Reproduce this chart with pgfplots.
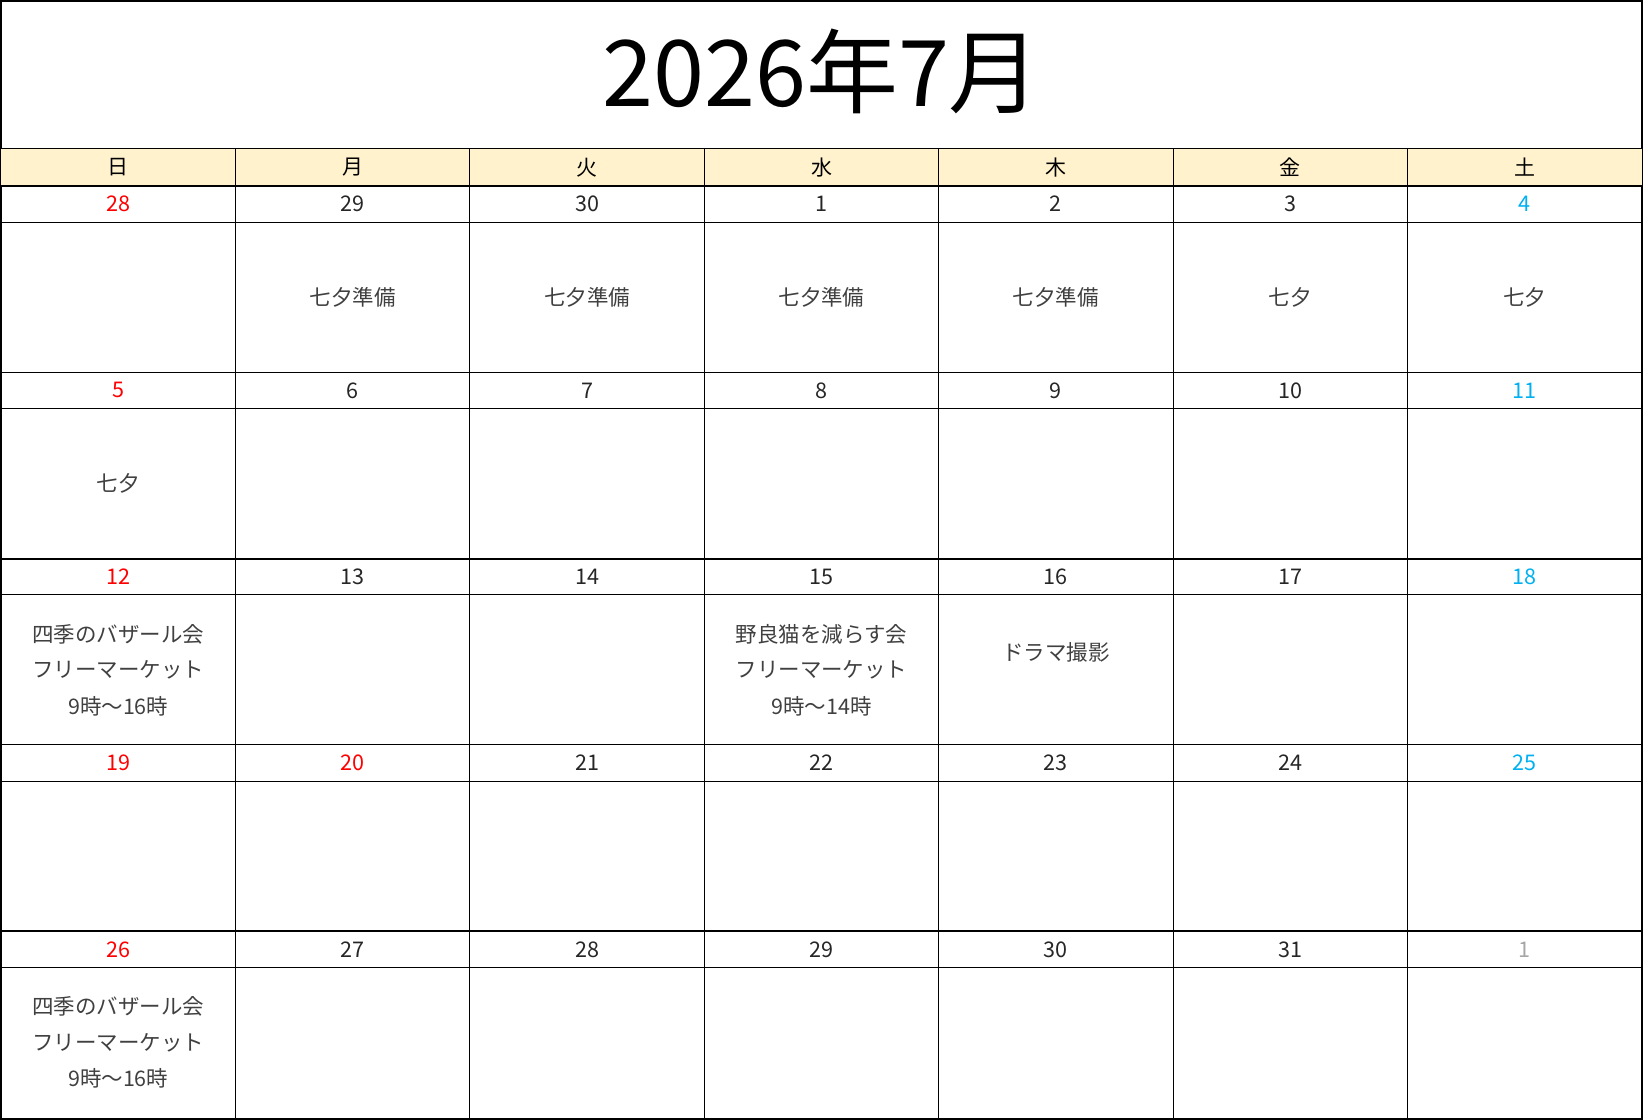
\documentclass[border=0pt]{standalone}
\usepackage{fontspec}
\setmainfont{Noto Sans CJK JP}
\usepackage{pgfplots}
\usepackage{pgfplotstable}
\pgfplotsset{compat=1.18}

\definecolor{hdrfill}{HTML}{FFF2CC}
\definecolor{sunred}{HTML}{FF0000}
\definecolor{satblue}{HTML}{00B0F0}
\definecolor{othergray}{HTML}{A6A6A6}
\definecolor{daytext}{HTML}{262626}
\definecolor{evtext}{HTML}{404040}

% layout in pixels (1px = 0.5pt), y measured downward from the top of the weekday header
\pgfplotstableread{
x y label
821.5 -77 2026年7月
}\titletab

\pgfplotstableread{
x y label
117.4 18.5 日
352.1 18.5 月
586.8 18.5 火
821.5 18.5 水
1056.2 18.5 木
1290.9 18.5 金
1525.6 18.5 土
}\weekdays

\pgfplotstableread{
x y label
352.1 55.2 29
586.8 55.2 30
821.5 55.2 1
1056.2 55.2 2
1290.9 55.2 3
352.1 241.8 6
586.8 241.8 7
821.5 241.8 8
1056.2 241.8 9
1290.9 241.8 10
352.1 428.4 13
586.8 428.4 14
821.5 428.4 15
1056.2 428.4 16
1290.9 428.4 17
586.8 615.0 21
821.5 615.0 22
1056.2 615.0 23
1290.9 615.0 24
352.1 801.6 27
586.8 801.6 28
821.5 801.6 29
1056.2 801.6 30
1290.9 801.6 31
}\plaindays

\pgfplotstableread{
x y label
117.4 55.2 28
117.4 241.8 5
117.4 428.4 12
117.4 615.0 19
352.1 615.0 20
117.4 801.6 26
}\reddays

\pgfplotstableread{
x y label
1525.6 55.2 4
1525.6 241.8 11
1525.6 428.4 18
1525.6 615.0 25
}\bluedays

\pgfplotstableread{
x y label
1525.6 801.6 1
}\graydays

\pgfplotstableread{
x y label
352.1 148.6 七夕準備
586.8 148.6 七夕準備
821.5 148.6 七夕準備
1056.2 148.6 七夕準備
1290.9 148.6 七夕
1525.6 148.6 七夕
117.4 335.2 七夕
117.4 485.8 四季のバザール会
117.4 521.8 フリーマーケット
117.4 557.8 9時～16時
821.5 485.8 野良猫を減らす会
821.5 521.8 フリーマーケット
821.5 557.8 9時～14時
1056.2 503.8 ドラマ撮影
117.4 859.0 四季のバザール会
117.4 895.0 フリーマーケット
117.4 931.0 9時～16時
}\events

\begin{document}
\begin{tikzpicture}
\begin{axis}[
    scale only axis,
    width=821.5pt, height=559.5pt,
    xmin=0, xmax=1643,
    ymin=-148, ymax=971,
    y dir=reverse,
    xtick=\empty, ytick=\empty,
    axis line style={line width=1pt},
    clip=false,
    labels/.style={draw=none, nodes near coords, point meta=explicit symbolic,
        every node near coord/.append style={anchor=center, inner sep=0pt}},
]
% weekday header band
\addplot[fill=hdrfill, draw=none] coordinates {(0,0) (1643,0) (1643,37) (0,37)} -- cycle;

% horizontal rules, full width
\addplot[xcomb, line width=0.5pt] coordinates {
    (1643,0) (1643,73.5) (1643,223.6) (1643,260.1) (1643,446.7)
    (1643,596.8) (1643,633.3) (1643,819.9)};
\addplot[xcomb, line width=1pt] coordinates {(1643,37) (1643,410.2) (1643,783.4)};

% column rules below the title
\addplot[ycomb, line width=0.5pt] coordinates {
    (234.7,971) (469.4,971) (704.1,971) (938.9,971) (1173.6,971) (1408.3,971)};

\addplot[labels, every node near coord/.append style={font=\fontsize{46pt}{55pt}\selectfont, text=black}]
    table[x=x, y=y, meta=label] {\titletab};
\addplot[labels, every node near coord/.append style={font=\fontsize{10.5pt}{12pt}\selectfont, text=black}]
    table[x=x, y=y, meta=label] {\weekdays};
\addplot[labels, every node near coord/.append style={font=\fontsize{10.8pt}{12pt}\selectfont, text=daytext}]
    table[x=x, y=y, meta=label] {\plaindays};
\addplot[labels, every node near coord/.append style={font=\fontsize{10.8pt}{12pt}\selectfont, text=sunred}]
    table[x=x, y=y, meta=label] {\reddays};
\addplot[labels, every node near coord/.append style={font=\fontsize{10.8pt}{12pt}\selectfont, text=satblue}]
    table[x=x, y=y, meta=label] {\bluedays};
\addplot[labels, every node near coord/.append style={font=\fontsize{10.8pt}{12pt}\selectfont, text=othergray}]
    table[x=x, y=y, meta=label] {\graydays};
\addplot[labels, every node near coord/.append style={font=\fontsize{10.75pt}{13pt}\selectfont, text=evtext}]
    table[x=x, y=y, meta=label] {\events};
\end{axis}
\end{tikzpicture}
\end{document}
